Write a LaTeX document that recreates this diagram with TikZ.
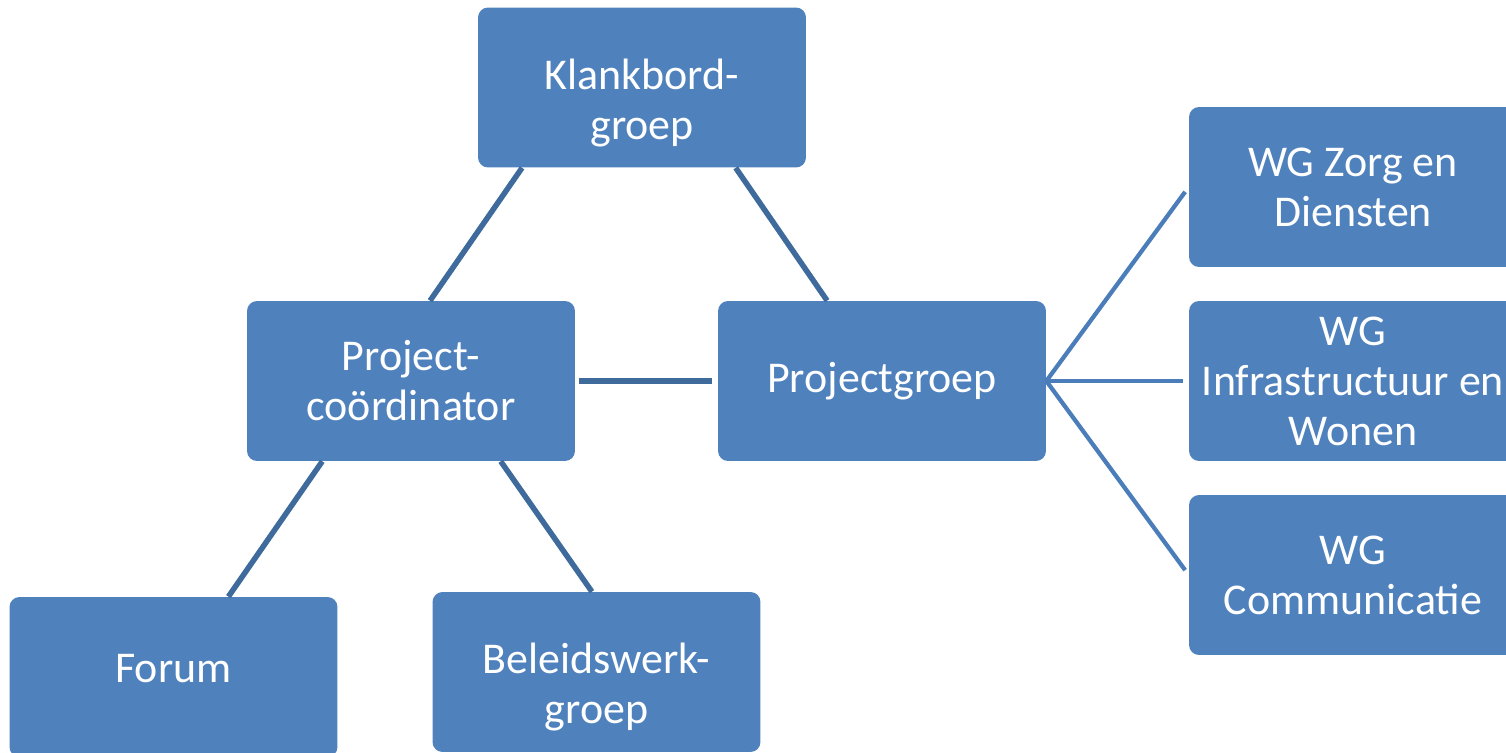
\documentclass[tikz,border=0pt]{standalone}
\usepackage{fontspec}
\setmainfont{Carlito}
\usetikzlibrary{calc}
\definecolor{boxblue}{HTML}{4F81BD}
\definecolor{linedark}{HTML}{3E6A9C}
\definecolor{linelight}{HTML}{4A7DBA}
\tikzset{
  groupbox/.style={rounded corners=0.2cm, fill=boxblue, text=white, align=center,
    minimum width=6.56cm, minimum height=3.2cm, inner sep=0pt,
    font=\fontsize{25}{28.5}\selectfont},
  textlower/.style={execute at begin node={\rule{0pt}{2.22cm}}},
  textraise/.style={execute at begin node={\rule[-0.36cm]{0pt}{0.36cm}}},
  darkline/.style={line width=0.11cm, color=linedark},
  lightline/.style={line width=0.085cm, color=linelight}
}
\begin{document}
\begin{tikzpicture}[x=0.02cm, y=-0.02cm]
			%%%%% START %%%%%
			\useasboundingbox (0, 0) rectangle (1506, 753);
			\clip (0, 0) rectangle (1506, 753);
			
			\node[groupbox, textlower] (klank) at (642, 87.5) {Klankbord-\\groep};
			\node[groupbox] (coord) at (411, 381) {Project-\\coördinator};
			\node[groupbox] (pg) at (882, 381) {Projectgroep};
			\node[groupbox, textraise] (forum) at (173.5, 677) {Forum};
			\node[groupbox, textlower] (beleid) at (596.5, 672) {Beleidswerk-\\groep};
			
			\node[groupbox] (wgzorg) at (1353, 187) {WG Zorg en\\Diensten};
			\node[groupbox] (wginfra) at (1353, 381) {WG\\Infrastructuur en\\Wonen};
			\node[groupbox] (wgcomm) at (1353, 575) {WG\\Communicatie};
			
			% where the lines meet the boxes
			\coordinate (klank-l) at ($(klank.south west)!0.135!(klank.south east)$);
			\coordinate (klank-r) at ($(klank.south west)!0.785!(klank.south east)$);
			\coordinate (coord-t) at ($(coord.north west)!0.558!(coord.north east)$);
			\coordinate (coord-bl) at ($(coord.south west)!0.23!(coord.south east)$);
			\coordinate (coord-br) at ($(coord.south west)!0.773!(coord.south east)$);
			\coordinate (pg-t) at ($(pg.north west)!0.333!(pg.north east)$);
			\coordinate (forum-t) at ($(forum.north west)!0.667!(forum.north east)$);
			\coordinate (beleid-t) at ($(beleid.north west)!0.486!(beleid.north east)$);
			
			\draw[darkline] (klank-l) -- (coord-t);
			\draw[darkline] (klank-r) -- (pg-t);
			\draw[darkline, shorten <=0.08cm, shorten >=0.12cm] (coord.east) -- (pg.west);
			\draw[darkline] (coord-bl) -- (forum-t);
			\draw[darkline] (coord-br) -- (beleid-t);
			
			\draw[lightline, shorten >=0.12cm] (pg.east) -- (wgzorg.west);
			\draw[lightline, shorten >=0.12cm] (pg.east) -- (wginfra.west);
			\draw[lightline, shorten >=0.12cm] (pg.east) -- (wgcomm.west);
			%%%%% END %%%%%
\end{tikzpicture}
\end{document}
